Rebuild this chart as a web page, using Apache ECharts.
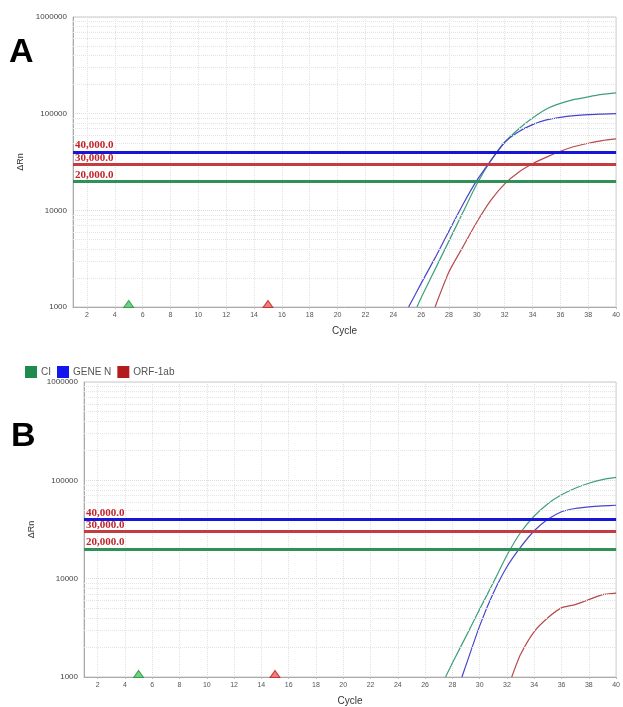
<!DOCTYPE html>
<html>
<head>
<meta charset="utf-8">
<script src="https://cdn.jsdelivr.net/npm/echarts@6/dist/echarts.min.js"></script>
<style>
  html, body { margin: 0; padding: 0; background: #fff; overflow: hidden; }
  #chart { width: 623px; height: 707px; }
</style>
</head>
<body>
<div id="chart"></div>
<script>
// tick labels
const xTicks = [2, 4, 6, 8, 10, 12, 14, 16, 18, 20, 22, 24, 26, 28, 30, 32, 34, 36, 38, 40];
const minorY = [2000, 3000, 4000, 5000, 6000, 7000, 8000, 9000,
  20000, 30000, 40000, 50000, 60000, 70000, 80000, 90000,
  200000, 300000, 400000, 500000, 600000, 700000, 800000, 900000];
const thresholds = [40000, 30000, 20000];
const markerCycles = [5, 15];

// panel A
const ciCyclesA = [25.7, 26, 27, 28, 29, 30, 31, 32, 33, 34, 35, 36, 37, 38, 39, 40];
const ciA = [1000, 1245, 2450, 4830, 9530, 18700, 32700, 50600, 69500, 90100, 111700, 127600, 140300, 149500, 158000, 164000];
const geneCyclesA = [25.1, 26, 27, 28, 29, 30, 31, 32, 33, 34, 35, 36, 37, 38, 39, 40];
const geneA = [1000, 1755, 3220, 6120, 11500, 20400, 32700, 50600, 65100, 77100, 86100, 91600, 95300, 97700, 99000, 100200];
const orfCyclesA = [27, 28, 29, 30, 31, 32, 33, 34, 35, 36, 37, 38, 39, 40];
const orfA = [1000, 2310, 4190, 7570, 12700, 18800, 24800, 30300, 35500, 40800, 45700, 49400, 52700, 54800];

// panel B
const ciCyclesB = [27.5, 28, 29, 30, 31, 32, 33, 34, 35, 36, 37, 38, 39, 40];
const ciB = [1000, 1390, 2590, 4900, 9120, 17300, 29500, 43400, 57900, 71300, 83200, 93300, 101600, 107000];
const geneCyclesB = [28.7, 29, 30, 31, 32, 33, 34, 35, 36, 37, 38, 39, 40];
const geneB = [1000, 1320, 3310, 7130, 13200, 20900, 30700, 40100, 47900, 51700, 53700, 55000, 55800];
const orfCyclesB = [32.35, 33, 34, 35, 36, 37, 38, 39, 40];
const orfB = [1000, 1700, 2900, 4010, 5050, 5450, 6120, 6870, 7130];

const curveColors = { ci: "#3f9f7d", gene: "#4646cc", orf: "#b84a4a" };
const threshColors = ["#1616d6", "#c23c42", "#2f9158"];

const zip = (xs, ys) => xs.map((x, i) => [x, ys[i]]);

const chart = echarts.init(document.getElementById("chart"));

const xAxisFor = gridIndex => ({
  type: "value",
  gridIndex,
  min: 1,
  max: 40,
  name: "Cycle",
  nameLocation: "middle",
  nameGap: 19,
  nameTextStyle: { color: "#333", fontSize: 10, fontFamily: "Liberation Sans" },
  axisLine: { lineStyle: { color: "#aaa" } },
  axisTick: { show: true, length: 2, customValues: xTicks, lineStyle: { color: "#bbb" } },
  axisLabel: { customValues: xTicks, color: "#555", fontSize: 7, margin: 5, fontFamily: "Liberation Sans" },
  splitLine: { show: true, lineStyle: { color: "#e2e2e2", type: "dotted" } }
});

const yAxisFor = gridIndex => ({
  type: "log",
  logBase: 10,
  gridIndex,
  min: 1000,
  max: 1000000,
  name: "ΔRn",
  nameLocation: "middle",
  nameGap: 44,
  nameTextStyle: { color: "#333", fontSize: 9, fontFamily: "Liberation Sans" },
  axisLine: { show: true, lineStyle: { color: "#aaa" } },
  axisTick: { show: false },
  axisLabel: { color: "#444", fontSize: 8, margin: 6, fontFamily: "Liberation Sans", formatter: v => String(v) },
  splitLine: { show: true, lineStyle: { color: "#dcdcdc", type: "dotted" } }
});

// minor log grid lines, drawn under the curves
const backgroundSeries = idx => ({
  type: "line",
  name: "grid" + idx,
  xAxisIndex: idx,
  yAxisIndex: idx,
  data: [],
  z: 1,
  silent: true,
  markLine: {
    silent: true,
    symbol: "none",
    label: { show: false },
    lineStyle: { color: "#e4e4e4", type: "dotted", width: 1 },
    data: minorY.map(v => ({ yAxis: v }))
  }
});

// threshold lines with their labels
const thresholdSeries = idx => ({
  type: "line",
  name: "thr" + idx,
  xAxisIndex: idx,
  yAxisIndex: idx,
  data: [],
  z: 2,
  silent: true,
  markLine: {
    silent: true,
    symbol: "none",
    data: thresholds.map((v, i) => ({
      yAxis: v,
      lineStyle: { color: threshColors[i], width: 3, type: "solid" },
      label: {
        show: true,
        position: "insideStartTop",
        distance: [2, 1],
        formatter: v.toLocaleString("en-US") + ".0",
        color: "#c0252b",
        fontSize: 11,
        fontWeight: "bold",
        fontFamily: "Liberation Serif"
      }
    }))
  }
});

const curve = (name, idx, xs, ys, color) => ({
  type: "line",
  name,
  xAxisIndex: idx,
  yAxisIndex: idx,
  data: zip(xs, ys),
  smooth: 0.2,
  showSymbol: false,
  z: 3,
  lineStyle: { color, width: 1.2 },
  itemStyle: { color }
});

const markers = idx => ({
  type: "scatter",
  name: "marker" + idx,
  xAxisIndex: idx,
  yAxisIndex: idx,
  clip: false,
  z: 4,
  symbol: "triangle",
  symbolSize: [10, 7],
  symbolOffset: [0, -3],
  data: [
    { value: [markerCycles[0], 1000], itemStyle: { color: "#55c46a", borderColor: "#1f9a3c", borderWidth: 1 } },
    { value: [markerCycles[1], 1000], itemStyle: { color: "#e86060", borderColor: "#c42020", borderWidth: 1 } }
  ]
});

const options = {
  backgroundColor: "#fff",
  animation: false,
  grid: [
    { left: 73, top: 17, width: 546, height: 290, show: true, borderColor: "#c8c8c8", borderWidth: 1 },
    { left: 84, top: 382, width: 539, height: 300, show: true, borderColor: "#c8c8c8", borderWidth: 1 }
  ],
  legend: {
    left: 20,
    top: 361,
    itemWidth: 12,
    itemHeight: 12,
    itemGap: 6,
    icon: "rect",
    textStyle: { color: "#555", fontSize: 10, fontFamily: "Liberation Sans", padding: [0, 0, 0, -1] },
    data: [
      { name: "CI", itemStyle: { color: "#1d8b4c" } },
      { name: "GENE N", itemStyle: { color: "#1515ee" } },
      { name: "ORF-1ab", itemStyle: { color: "#b41c1c" } }
    ]
  },
  graphic: [
    { type: "text", left: 9, top: 36, style: { text: "A", fontSize: 34, fontWeight: "bold", fontFamily: "Liberation Sans", fill: "#000" } },
    { type: "text", left: 11, top: 420, style: { text: "B", fontSize: 34, fontWeight: "bold", fontFamily: "Liberation Sans", fill: "#000" } }
  ],
  xAxis: [xAxisFor(0), xAxisFor(1)],
  yAxis: [yAxisFor(0), yAxisFor(1)],
  series: [
    backgroundSeries(0),
    backgroundSeries(1),
    thresholdSeries(0),
    thresholdSeries(1),
    curve("CI", 0, ciCyclesA, ciA, curveColors.ci),
    curve("GENE N", 0, geneCyclesA, geneA, curveColors.gene),
    curve("ORF-1ab", 0, orfCyclesA, orfA, curveColors.orf),
    curve("CI", 1, ciCyclesB, ciB, curveColors.ci),
    curve("GENE N", 1, geneCyclesB, geneB, curveColors.gene),
    curve("ORF-1ab", 1, orfCyclesB, orfB, curveColors.orf),
    markers(0),
    markers(1)
  ]
};

chart.setOption(options);
</script>
</body>
</html>
